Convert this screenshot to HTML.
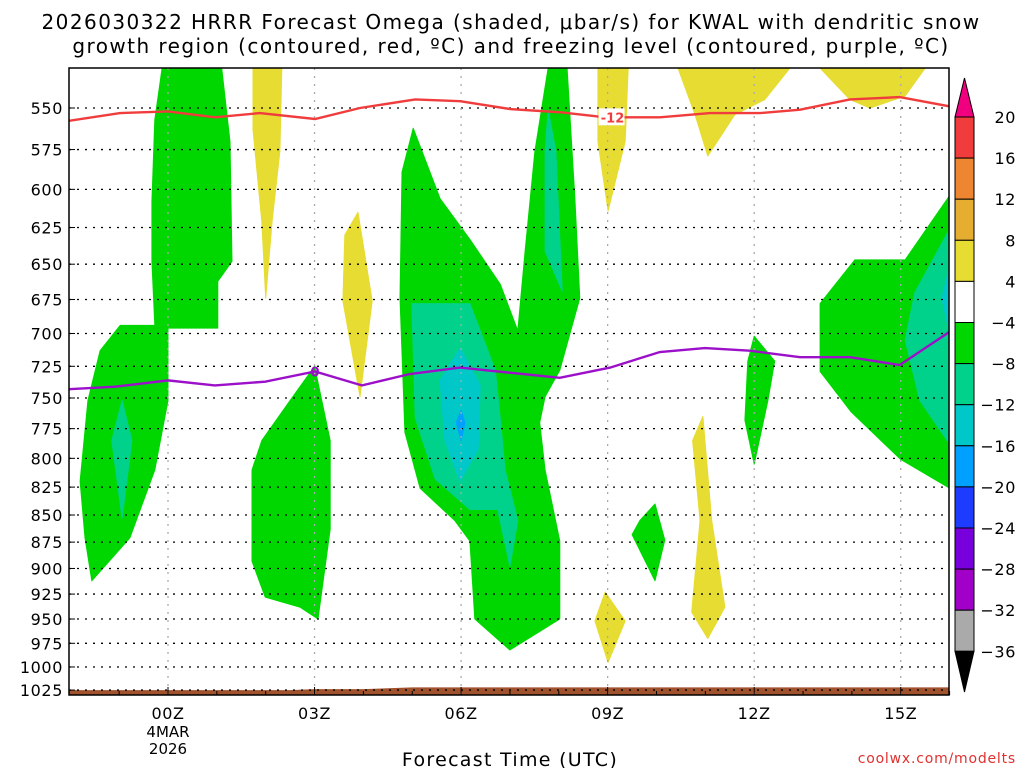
<!DOCTYPE html>
<html><head><meta charset="utf-8"><style>
body{margin:0;background:#fff;width:1024px;height:768px;overflow:hidden}
svg{font-family:"DejaVu Sans","Liberation Sans",sans-serif}
</style></head><body>
<svg id="c" width="1024" height="768">
<text x="511" y="29" text-anchor="middle" font-size="20" letter-spacing="1.45">2026030322 HRRR Forecast Omega (shaded, μbar/s) for KWAL with dendritic snow</text>
<text x="511" y="53" text-anchor="middle" font-size="20" letter-spacing="1.45">growth region (contoured, red, ºC) and freezing level (contoured, purple, ºC)</text>
<text x="510" y="766" text-anchor="middle" font-size="19" letter-spacing="1.3">Forecast Time (UTC)</text>
<text x="1016" y="763" text-anchor="end" font-size="14" letter-spacing="0.8" fill="#e03030">coolwx.com/modelts</text>
<g id="shade"></g><g id="grid"></g><g id="lines"></g><g id="axes"></g><g id="cbar"></g>
</svg>
<script>
const NS="http://www.w3.org/2000/svg";
const yTicks=[550,575,600,625,650,675,700,725,750,775,800,825,850,875,900,925,950,975,1000,1025];
const xTickHours=[0,3,6,9,12,15];
const xTickLabels=["00Z","03Z","06Z","09Z","12Z","15Z"];
const cbLevels=[20,16,12,8,4,-4,-8,-12,-16,-20,-24,-28,-32,-36];
const cbColors=["#f03c3c","#ee8530","#e6ae30","#e6dc32","#ffffff","#00d700","#00d28c","#00c8c8","#00a0ff","#1e3cff","#7800dc","#a000c8","#aaaaaa"];
const regions=[
["#00d700",[-0.12,1.1,1.27,1.31,1.02,1.02,0,0,-0.27,-0.78,-1.56,-1.7,-1.8,-1.64,-1.39,-0.98,-0.27,-0.33,-0.33,-0.27],[527,527,570,648,662,696,696,752,810,871,912,871,820,752,713,694,694,648,608,557]],
["#00d28c",[-0.94,-0.74,-0.94,-1.15],[752,785,853,785]],
["#e6dc32",[1.74,2.33,2.29,2.13,2.0,1.92,1.74],[527,527,576,621,674,621,563]],
["#00d700",[3.0,3.32,3.32,3.07,2.7,1.99,1.72,1.72,1.92,2.5],[725,785,863,950,938,928,893,810,785,752]],
["#e6dc32",[3.89,4.18,3.93,3.58,3.62],[615,676,749,676,630]],
["#00d700",[5.02,5.57,6.18,6.8,7.16,7.31,7.51,7.78,8.17,8.33,8.43,8.02,7.72,7.61,7.72,8.02,8.02,7.0,6.28,6.18,5.87,5.16,4.85,4.75,4.79],[562,606,633,664,698,641,576,527,527,606,674,728,749,770,810,874,950,982,950,874,855,826,778,674,589]],
["#00d28c",[4.99,6.18,6.7,6.8,6.9,7.16,7.0,6.75,6.18,5.47,5.06],[678,678,728,766,810,855,898,845,845,818,766]],
["#00d28c",[7.78,7.94,8.07,7.72,7.72],[551,576,669,641,576]],
["#00c8c8",[5.98,6.39,6.35,5.98,5.67,5.57],[711,740,792,820,785,736]],
["#00a0ff",[6.0,6.08,6.0,5.9],[760,770,785,770]],
["#e6dc32",[8.8,9.42,9.36,9.01,8.8],[527,527,570,614,570]],
["#e6dc32",[8.95,9.36,9.01,8.74],[923,952,995,952]],
["#00d700",[9.97,10.17,9.97,9.5,9.66],[840,873,912,868,855]],
["#e6dc32",[10.95,11.13,11.4,11.05,10.72,10.89,10.74],[765,855,938,970,943,855,785]],
["#e6dc32",[10.44,12.73,12.22,11.6,11.05,10.79],[527,527,545,554,579,554]],
["#e6dc32",[13.35,15.5,15.09,14.37,13.96],[527,527,543,550,545]],
["#00d700",[12.0,12.42,12.28,12.0,11.81,11.87],[702,721,752,805,768,721]],
["#00d700",[14.06,15.09,16,16,15.0,13.98,13.35,13.35],[647,647,604,826,801,761,729,678]],
["#00d28c",[16,16,15.39,15.09,15.29],[626,788,752,705,670]],
["#00c8c8",[16,16,15.84],[652,700,674]]
];
const redHours=[-2.03,-0.98,0,0.96,1.88,3.01,3.93,5.06,5.98,7.0,8.02,8.95,10.07,11.1,12.12,12.94,13.96,14.98,15.99];
const redP=[557.6,553,552,555.5,553,556.5,550,545,546,550.6,552.5,555.5,555.5,553,553,551,545,543.6,549];
const purHours=[-2.03,-1.08,0,0.96,1.99,3.01,3.97,4.95,5.98,7.0,8.02,9.05,10.07,10.99,11.91,12.94,13.96,14.98,15.99];
const purP=[743,741,736,740,737,729,740,731,726,730,734,726,714,711,713,718,718,724,699];
const groundHours=[-2.1,2.5,3,4,5,16.1];
const groundP=[1025,1025,1024,1024,1022,1022];
const X0=69,X1=949,Y0=68,Y1=695;
const xs=h=>168+48.85*h;
const ys=p=>108+935*Math.log(p/550);
function mk(t,a,parent){const e=document.createElementNS(NS,t);for(const k in a)e.setAttribute(k,a[k]);parent.appendChild(e);return e;}
const shade=document.getElementById('shade'),grid=document.getElementById('grid'),lines=document.getElementById('lines'),axes=document.getElementById('axes'),cb=document.getElementById('cbar');
const clip=mk('clipPath',{id:'pc'},mk('defs',{},document.getElementById('c')));
mk('rect',{x:X0,y:Y0,width:X1-X0,height:Y1-Y0},clip);
shade.setAttribute('clip-path','url(#pc)');lines.setAttribute('clip-path','url(#pc)');
regions.forEach((r,i)=>{
 const pts=r[1].map((h,j)=>xs(h).toFixed(1)+','+ys(r[2][j]).toFixed(1)).join(' ');
 const e=mk('polygon',{points:pts,fill:r[0],stroke:r[0],'stroke-width':1,'stroke-linejoin':'round'},shade);
 
 
});
{let pts=groundHours.map((h,j)=>xs(h)+','+ys(groundP[j])).join(' ');
 pts+=' '+xs(16.1)+','+Y1+' '+xs(-2.1)+','+Y1;
 const g=mk('polygon',{points:pts,fill:'#a0522d'},shade);
 
 }
yTicks.forEach(p=>{const y=ys(p);
 const l=mk('line',{x1:X0,x2:X1,y1:y,y2:y,stroke:'#000','stroke-width':1.3,'stroke-dasharray':'2 6'},grid);
 
 
 const t=mk('text',{x:63,y:y+6,'text-anchor':'end','font-size':16,'letter-spacing':0.6},axes);t.textContent=p;
 
 
 mk('line',{x1:X0,x2:X0+6,y1:y,y2:y,stroke:'#000'},axes);
});
xTickHours.forEach((h,i)=>{const x=xs(h);
 const l=mk('line',{x1:x,x2:x,y1:Y0,y2:Y1,stroke:'#aaa','stroke-width':1.3,'stroke-dasharray':'2 6'},grid);
 
 
 const t=mk('text',{x:x,y:719,'text-anchor':'middle','font-size':16,'letter-spacing':0.6},axes);t.textContent=xTickLabels[i];
 
 
});
for(let h=-1;h<=16;h++){mk('line',{x1:xs(h),x2:xs(h),y1:Y1,y2:Y1-(h%3==0?8:4),stroke:'#000'},axes);}
{const t1=mk('text',{x:168,y:737,'text-anchor':'middle','font-size':15},axes);t1.textContent='4MAR';
 
 const t2=mk('text',{x:168,y:754,'text-anchor':'middle','font-size':15},axes);t2.textContent='2026';
 }
function pl(hs,ps,col,name){const e=mk('polyline',{points:hs.map((h,j)=>xs(h)+','+ys(ps[j])).join(' '),fill:'none',stroke:col,'stroke-width':2.4},lines);
 }
pl(redHours,redP,'#f03c3c','dendritic-contour-line');
pl(purHours,purP,'#9b10c8','freezing-level-line');
{const x=xs(9.1),y=ys(555.5);mk('rect',{x:x-14,y:y-9,width:26,height:17,fill:'#fff'},lines);
 const t=mk('text',{x:x,y:y+5,'text-anchor':'middle','font-size':13,fill:'#f03c3c','font-weight':'bold'},lines);t.textContent='-12';
 
 const x2=xs(3.01),y2=ys(729);
 const t3=mk('text',{x:x2,y:y2+5,'text-anchor':'middle','font-size':13,fill:'#9b10c8','font-weight':'bold'},lines);t3.textContent='0';
 }
mk('rect',{x:X0,y:Y0,width:X1-X0,height:Y1-Y0,fill:'none',stroke:'#000','stroke-width':1.5},axes);
const cbX=955,cbW=19,cbTop=117,cbStep=41.1;
mk('polygon',{points:`${cbX},${cbTop} ${cbX+cbW},${cbTop} ${cbX+cbW/2},78`,fill:'#f0007f',stroke:'#000'},cb);
cbColors.forEach((c,i)=>{const r=mk('rect',{x:cbX,y:cbTop+i*cbStep,width:cbW,height:cbStep,fill:c,stroke:'#000'},cb);
 });
const cbBot=cbTop+cbColors.length*cbStep;
mk('polygon',{points:`${cbX},${cbBot} ${cbX+cbW},${cbBot} ${cbX+cbW/2},692`,fill:'#000',stroke:'#000'},cb);
cbLevels.forEach((v,i)=>{const t=mk('text',{x:1016,y:cbTop+i*cbStep+6,'text-anchor':'end','font-size':16,'letter-spacing':0.6},cb);
 t.textContent=v<0?'−'+(-v):v;
 });
</script>
</body></html>
